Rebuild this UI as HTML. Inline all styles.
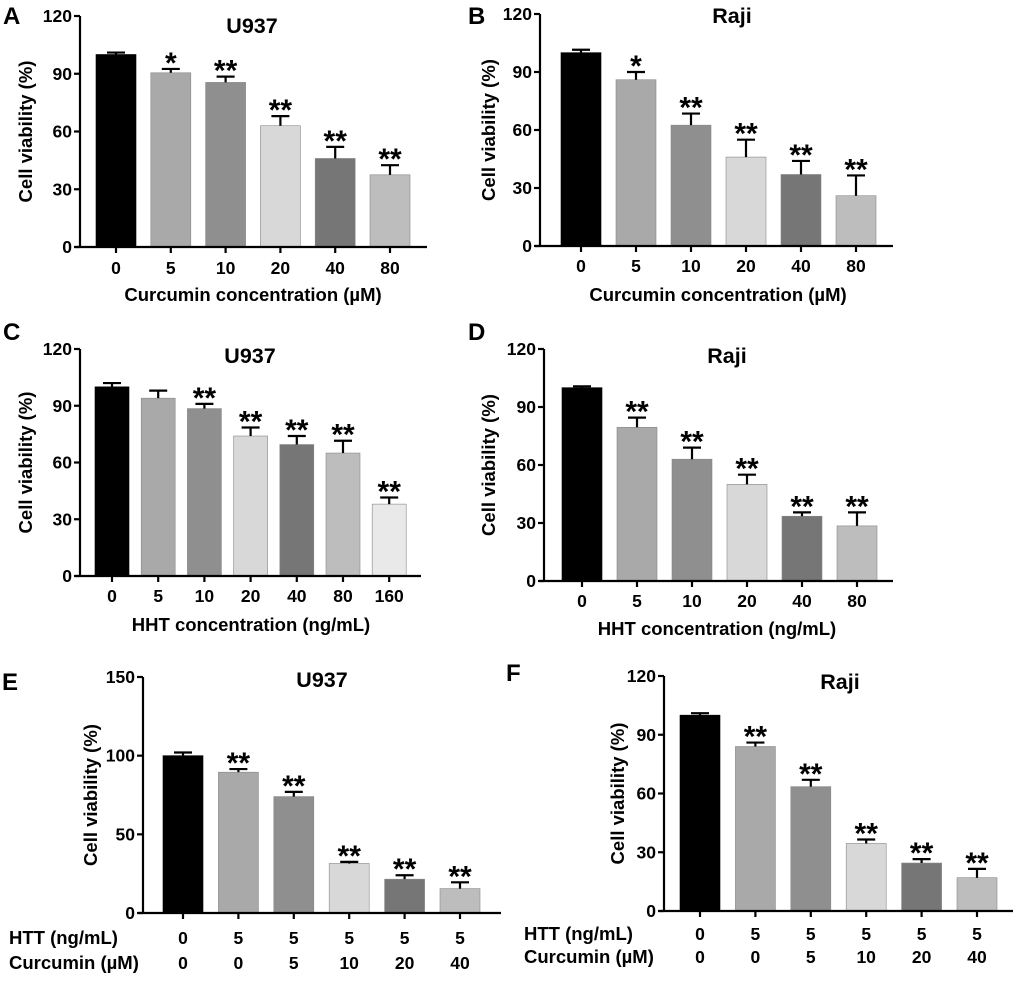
<!DOCTYPE html>
<html><head><meta charset="utf-8"><style>
html,body{margin:0;padding:0;background:#fff;}
svg{display:block;font-family:"Liberation Sans",Arial,sans-serif;font-weight:bold;}
</style></head><body>
<svg id="fig" width="1020" height="981" viewBox="0 0 1020 981" xmlns="http://www.w3.org/2000/svg"></svg>
<script>
const colorsA = ["#000000","#a9a9a9","#8f8f8f","#d8d8d8","#767676","#bdbdbd"];
const colorsC = ["#000000","#a9a9a9","#8f8f8f","#d8d8d8","#767676","#bdbdbd","#e9e9e9"];

const catsA = ["0","5","10","20","40","80"];
const valsA = [100,90.5,85.5,63,46,37.5];
const errA = [1,2,3,5,6,5];
const starsA = ["","*","**","**","**","**"];

const catsB = ["0","5","10","20","40","80"];
const valsB = [100,86,62.5,46,37,26];
const errB = [1.5,4,6,9,7,10.5];
const starsB = ["","*","**","**","**","**"];

const catsC = ["0","5","10","20","40","80","160"];
const valsC = [100,94,88.5,74,69.5,65,38];
const errC = [2,4,2.5,4.5,4.5,6.5,3.5];
const starsC = ["","","**","**","**","**","**"];

const catsD = ["0","5","10","20","40","80"];
const valsD = [100,79.5,63,50,33.5,28.5];
const errD = [0.7,5,6,5,2,7];
const starsD = ["","**","**","**","**","**"];

const httE = ["0","5","5","5","5","5"];
const curE = ["0","0","5","10","20","40"];
const valsE = [100,89.5,74,31.5,21.5,15.5];
const errE = [2,2,3,1,2.5,4];
const starsE = ["","**","**","**","**","**"];

const httF = ["0","5","5","5","5","5"];
const curF = ["0","0","5","10","20","40"];
const valsF = [100,84,63.5,34.5,24.5,17];
const errF = [1,2,3.5,2,2,4.5];
const starsF = ["","**","**","**","**","**"];

const ticks120 = [0,30,60,90,120];
const ticks150 = [0,50,100,150];

const NS="http://www.w3.org/2000/svg";
const svg=document.getElementById('fig');
function mk(tag,attrs,parent,text){
  const e=document.createElementNS(NS,tag);
  for(const k in attrs)e.setAttribute(k,attrs[k]);
  if(text!==undefined)e.textContent=text;
  (parent||svg).appendChild(e);return e;
}

function panel(p){
  const g=mk('g',{});
  
  
  const ymax=p.ticks[p.ticks.length-1];
  const Y=v=>p.y0-(v/ymax)*(p.y0-p.yTop);
  const X=i=>p.c0+i*p.step;
  const L=mk('text',{x:p.lx,y:p.ly,'font-size':24},g,p.id);
  
  
  const T=mk('text',{x:p.tx,y:p.ty,'font-size':21.5,'text-anchor':'middle'},g,p.title);
  
  
  p.vals.forEach((v,i)=>{
    const cx=X(i);
    const r=mk('rect',{x:cx-p.bw/2,y:Y(v),width:p.bw,height:p.y0-Y(v),fill:p.colors[i],stroke:i===0?'#000':'#888','stroke-width':0.6},g);
    
    
    const top=Y(v+p.err[i]);
    const e=mk('path',{d:`M${cx} ${Y(v)} V${top} M${cx-9} ${top} H${cx+9}`,stroke:'#000','stroke-width':2.2,fill:'none'},g);
    
    
    if(p.stars[i]){
      const s=mk('text',{x:cx,y:top+4,'font-size':30,'text-anchor':'middle'},g,p.stars[i]);
      
      
    }
  });
  const ax=mk('path',{d:`M${p.ax} ${p.yTop} V${p.y0} M${p.ax-5} ${p.y0} H${p.axEnd}`,stroke:'#000','stroke-width':2.2,fill:'none'},g);
  
  
  p.ticks.forEach(t=>{
    mk('path',{d:`M${p.ax-6} ${Y(t)} H${p.ax}`,stroke:'#000','stroke-width':2.2},g);
    const tl=mk('text',{x:p.ax-8,y:Y(t)+6,'font-size':17.5,'text-anchor':'end'},g,String(t));
    
    
  });
  p.vals.forEach((v,i)=>{
    mk('path',{d:`M${X(i)} ${p.y0} V${p.y0+6}`,stroke:'#000','stroke-width':2.2},g);
  });
  if(p.cats){
    p.cats.forEach((c,i)=>{
      const tl=mk('text',{x:X(i),y:p.tickY,'font-size':17.5,'text-anchor':'middle'},g,c);
      
      
    });
    const xt=mk('text',{x:p.xtx,y:p.xty,'font-size':18.5,'text-anchor':'middle'},g,p.xtitle);
    
    
  } else {
    const r1=mk('text',{x:p.rlx,y:p.r1y,'font-size':18.5},g,'HTT (ng/mL)');
    
    
    const r2=mk('text',{x:p.rlx,y:p.r2y,'font-size':18.5},g,'Curcumin (\u00b5M)');
    
    
    p.htt.forEach((c,i)=>{
      const a=mk('text',{x:X(i),y:p.r1y,'font-size':17.5,'text-anchor':'middle'},g,c);
      
      
      const b=mk('text',{x:X(i),y:p.r2y,'font-size':17.5,'text-anchor':'middle'},g,p.cur[i]);
      
      
    });
  }
  const yc=(p.yTop+p.y0)/2+p.ytOff;
  const yt=mk('text',{x:0,y:0,'font-size':18.5,'text-anchor':'middle',transform:`translate(${p.ytx},${yc}) rotate(-90)`},g,'Cell viability (%)');
  
  
}

panel({id:'A',title:'U937',lx:3,ly:24,tx:252,ty:33,ax:80,axEnd:427,yTop:16,y0:247,c0:116,step:54.8,bw:40,
  ticks:ticks120,vals:valsA,err:errA,stars:starsA,colors:colorsA,cats:catsA,tickY:274,xtitle:'Curcumin concentration (\u00b5M)',xtx:253,xty:301,ytx:32,ytOff:0});
panel({id:'B',title:'Raji',lx:468,ly:24,tx:732,ty:23,ax:540,axEnd:893,yTop:14,y0:246,c0:581,step:55,bw:40,
  ticks:ticks120,vals:valsB,err:errB,stars:starsB,colors:colorsA,cats:catsB,tickY:272,xtitle:'Curcumin concentration (\u00b5M)',xtx:718,xty:301,ytx:495,ytOff:0});
panel({id:'C',title:'U937',lx:3,ly:340,tx:250,ty:363,ax:80,axEnd:421,yTop:349,y0:576,c0:112,step:46.2,bw:34,
  ticks:ticks120,vals:valsC,err:errC,stars:starsC,colors:colorsC,cats:catsC,tickY:602,xtitle:'HHT concentration (ng/mL)',xtx:251,xty:631,ytx:32,ytOff:0});
panel({id:'D',title:'Raji',lx:468,ly:340,tx:727,ty:363,ax:544,axEnd:893,yTop:349,y0:581,c0:582,step:55,bw:40,
  ticks:ticks120,vals:valsD,err:errD,stars:starsD,colors:colorsA,cats:catsD,tickY:607,xtitle:'HHT concentration (ng/mL)',xtx:717,xty:635,ytx:495,ytOff:0});
panel({id:'E',title:'U937',lx:2,ly:690,tx:322,ty:687,ax:143,axEnd:501,yTop:677,y0:913,c0:183,step:55.4,bw:40,
  ticks:ticks150,vals:valsE,err:errE,stars:starsE,colors:colorsA,htt:httE,cur:curE,rlx:9,r1y:944,r2y:969,ytx:97,ytOff:0});
panel({id:'F',title:'Raji',lx:506,ly:681,tx:840,ty:689,ax:664,axEnd:1013,yTop:676,y0:911,c0:700,step:55.4,bw:40,
  ticks:ticks120,vals:valsF,err:errF,stars:starsF,colors:colorsA,htt:httF,cur:curF,rlx:524,r1y:940,r2y:963,ytx:624,ytOff:0});
</script>
</body></html>
